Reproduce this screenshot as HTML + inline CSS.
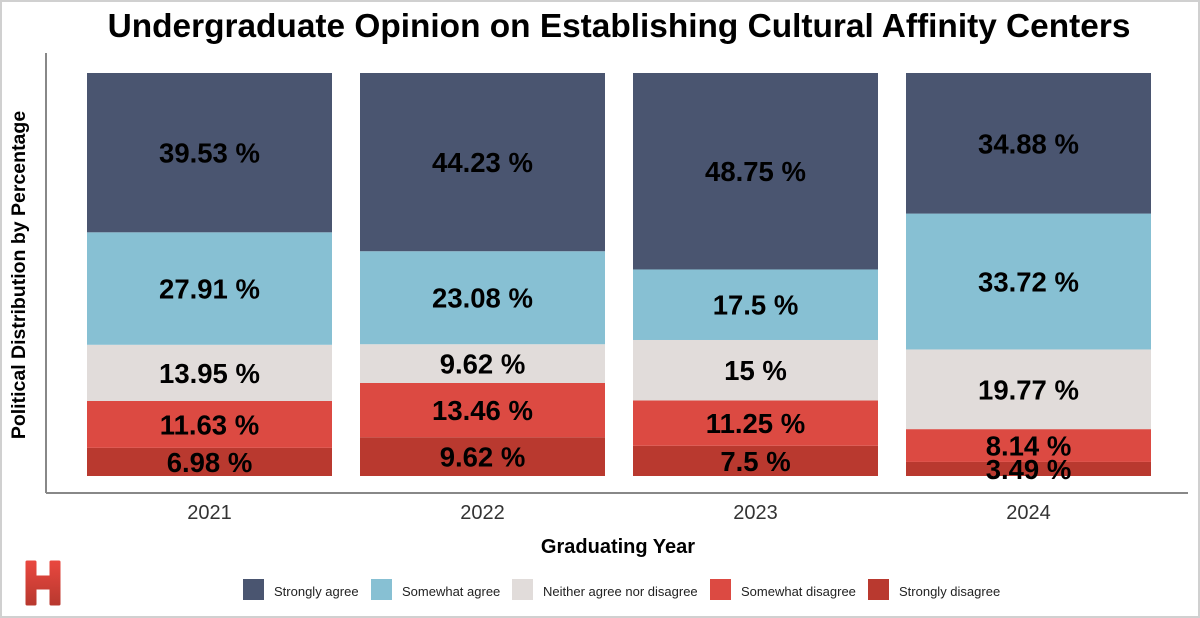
<!DOCTYPE html>
<html><head><meta charset="utf-8"><style>
body{margin:0;background:#fff}
svg{display:block;font-family:"Liberation Sans",Arial,sans-serif}
</style></head><body>
<svg id="c" width="1200" height="618" viewBox="0 0 1200 618">
<defs><linearGradient id="lg" x1="0" y1="0" x2="0" y2="1"><stop offset="0" stop-color="#e8473f"/><stop offset="1" stop-color="#b9392f"/></linearGradient></defs>
<rect x="1" y="1" width="1198" height="616" fill="#fff" stroke="#d0d0d0" stroke-width="2"/>
<text x="619" y="37" text-anchor="middle" font-size="33.4" font-weight="bold" fill="#000">Undergraduate Opinion on Establishing Cultural Affinity Centers</text>
<line x1="46" y1="53" x2="46" y2="493" stroke="#888" stroke-width="2"/>
<line x1="46" y1="493" x2="1188" y2="493" stroke="#888" stroke-width="2"/>
<text transform="translate(25,275) rotate(-90)" text-anchor="middle" font-size="19.5" font-weight="bold">Political Distribution by Percentage</text>
<text x="618" y="553" text-anchor="middle" font-size="20" font-weight="bold">Graduating Year</text>
<path d="M27 562h8v15h16v-15h8v42h-8v-16h-16v16h-8z" fill="url(#lg)" stroke="url(#lg)" stroke-width="3" stroke-linejoin="round"/>
<g id="bars"></g>
<g id="legend"></g>
</svg>
<script>
const years=["2021","2022","2023","2024"];
const stronglyAgree=[39.53,44.23,48.75,34.88];
const somewhatAgree=[27.91,23.08,17.5,33.72];
const neither=[13.95,9.62,15,19.77];
const somewhatDisagree=[11.63,13.46,11.25,8.14];
const stronglyDisagree=[6.98,9.62,7.5,3.49];
const seriesNames=["Strongly agree","Somewhat agree","Neither agree nor disagree","Somewhat disagree","Strongly disagree"];
const NS="http://www.w3.org/2000/svg";
const colors=["#4a5570","#87c0d3","#e1dcda","#dc4a42","#b9392f"];
const series=[stronglyAgree,somewhatAgree,neither,somewhatDisagree,stronglyDisagree];
const y0=476,y1=73;
function yScale(p){return y0-(y0-y1)*p/100;}
function xScale(i){return 87+i*273;}
const bw=245;
const g=document.getElementById('bars');
function mk(t,a){const e=document.createElementNS(NS,t);for(const k in a)e.setAttribute(k,a[k]);return e;}
years.forEach((yr,i)=>{
  let cum=0;
  const x=xScale(i);
  const vals=series.map(s=>s[i]);
  const total=vals.reduce((a,b)=>a+b,0);
  for(let s=series.length-1;s>=0;s--){
    const v=vals[s]*100/total;
    const yb=yScale(cum),yt=yScale(cum+v);
    const r=mk('rect',{x:x,y:yt,width:bw,height:yb-yt,fill:colors[s]});
    
    
    g.appendChild(r);
    cum+=v;
  }
  cum=0;
  for(let s=series.length-1;s>=0;s--){
    const v=vals[s]*100/total;
    const yc=(yScale(cum)+yScale(cum+v))/2;
    const t=mk('text',{x:x+bw/2,y:yc+10,'text-anchor':'middle','font-size':'27.5','font-weight':'bold',fill:'#000'});
    t.textContent=series[s][i]+' %';
    
    
    g.appendChild(t);
    cum+=v;
  }
  const tl=mk('text',{x:x+bw/2,y:519,'text-anchor':'middle','font-size':'20',fill:'#333'});
  tl.textContent=yr;
  
  
  g.appendChild(tl);
});
const lg=document.getElementById('legend');
const lx=[243,371,512,710,868];
seriesNames.forEach((n,i)=>{
  const r=mk('rect',{x:lx[i],y:579,width:21,height:21,fill:colors[i]});
  
  
  lg.appendChild(r);
  const t=mk('text',{x:lx[i]+31,y:596,'font-size':'13','fill':'#222'});
  t.textContent=n;
  
  
  lg.appendChild(t);
});
</script>
</body></html>
